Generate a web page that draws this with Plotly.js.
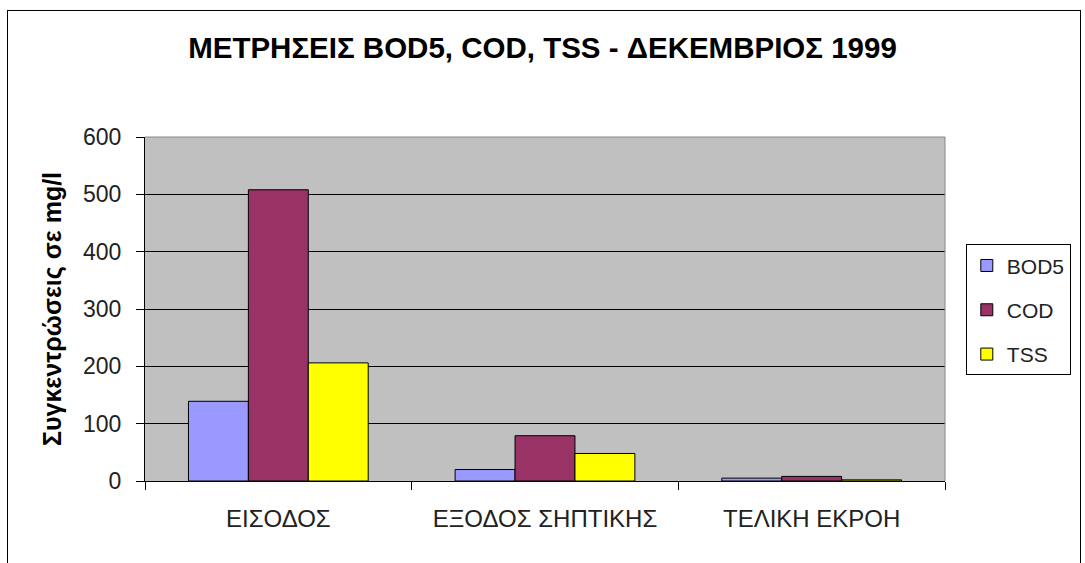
<!DOCTYPE html>
<html><head><meta charset="utf-8">
<script src="https://cdn.plot.ly/plotly-3.0.1.min.js"></script>
<style>
html,body{margin:0;padding:0;background:#fff;}
#wrap{position:relative;width:1085px;height:563px;overflow:hidden;}
#chart{width:1085px;height:563px;}
#frame{position:absolute;left:7px;top:10px;width:1072px;height:600px;border:1px solid #000;pointer-events:none;}
</style></head>
<body><div id="wrap"><div id="chart"></div><div id="frame"></div></div>
<script>
const categories = ["ΕΙΣΟΔΟΣ", "ΕΞΟΔΟΣ ΣΗΠΤΙΚΗΣ", "ΤΕΛΙΚΗ ΕΚΡΟΗ"];
const seriesNames = ["BOD5", "COD", "TSS"];
const bod5 = [139, 20, 5];
const cod = [508, 79, 8];
const tss = [206, 48, 2];
const yTicks = [0, 100, 200, 300, 400, 500, 600];

const colors = ["#9999FF", "#993366", "#FFFF00"];
const data = [bod5, cod, tss].map((vals, i) => ({
  type: "bar", x: categories, y: vals, name: seriesNames[i],
  legendgroup: "g" + i,
  marker: {color: colors[i], line: {color: "#000", width: 1}}
}));

const layout = {
  width: 1085, height: 563,
  margin: {l: 145, r: 140, t: 137, b: 82},
  paper_bgcolor: "#fff", plot_bgcolor: "#C0C0C0",
  font: {family: "Arial, Liberation Sans, sans-serif", color: "#000", size: 16},
  title: {text: "<b>ΜΕΤΡΗΣΕΙΣ BOD5, COD, TSS - ΔΕΚΕΜΒΡΙΟΣ 1999</b>", x: 0.5, xanchor: "center", y: 0.915, yanchor: "middle",
    font: {size: 29.5, family: "Arial, Liberation Sans, sans-serif", color: "#000"}},
  barmode: "group", bargap: 0.326, bargroupgap: 0,
  showlegend: true,
  legend: {x: 1.026, xanchor: "left", y: 0.688, yanchor: "top", bordercolor: "#000", borderwidth: 1,
    tracegroupgap: 14, itemwidth: 30, font: {size: 21, color: "#222"}, bgcolor: "#fff"},
  xaxis: {type: "category", tickson: "boundaries", ticks: "outside", ticklen: 8, tickcolor: "#000",
    showline: true, linecolor: "#000", showgrid: false, tickfont: {size: 24, color: "#222"},
    ticklabelstandoff: 16, automargin: false},
  yaxis: {range: [0, 600], tickvals: yTicks, ticks: "outside", ticklen: 8, tickcolor: "#000",
    showline: true, linecolor: "#000", gridcolor: "#000", gridwidth: 1, zeroline: false,
    tickfont: {size: 23, color: "#222"}, ticklabelstandoff: 10, automargin: false,
    title: {text: "<b>Συγκεντρώσεις σε mg/l</b>", font: {size: 25, color: "#000"}, standoff: 14}},
  shapes: [
    {type: "line", xref: "paper", yref: "paper", x0: 0, x1: 1, y0: 1, y1: 1, line: {color: "#888", width: 1}},
    {type: "line", xref: "paper", yref: "paper", x0: 1, x1: 1, y0: 0, y1: 1, line: {color: "#888", width: 1}}
  ]
};
Plotly.newPlot("chart", data, layout, {displayModeBar: false, staticPlot: true});
</script></body></html>
